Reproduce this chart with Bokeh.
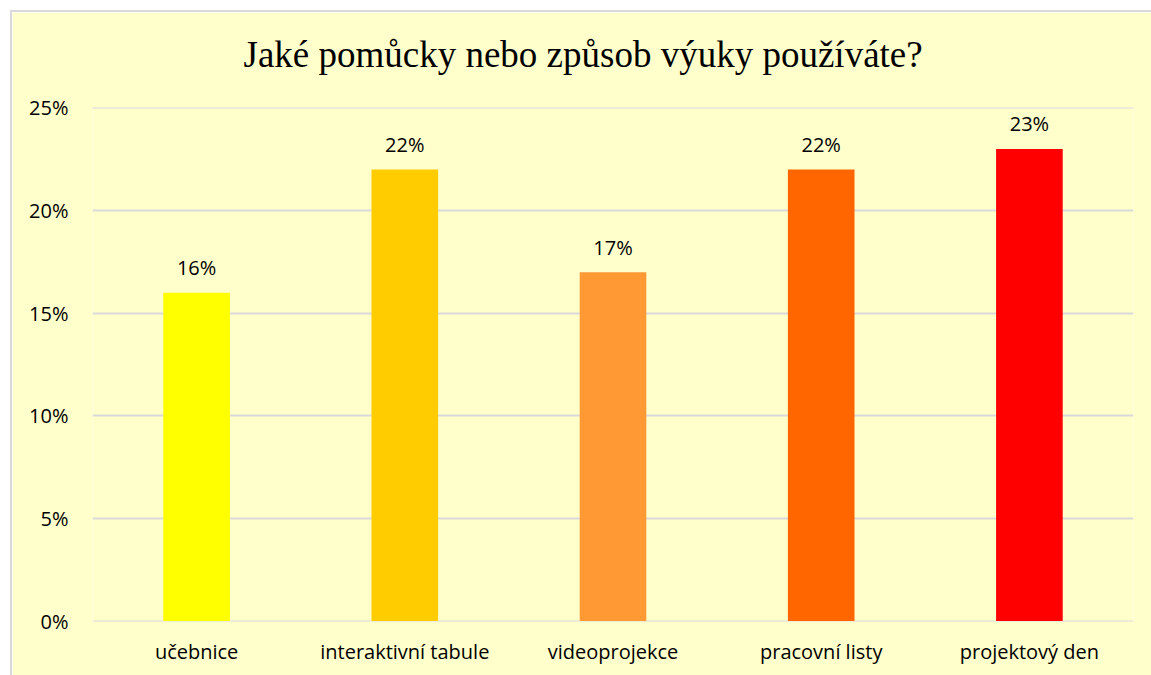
from bokeh.plotting import figure
from bokeh.models import ColumnDataSource, FixedTicker, PrintfTickFormatter, Title, Range1d
from bokeh.core.properties import value
from bokeh.embed import file_html
from bokeh.resources import INLINE

categories = ["učebnice", "interaktivní tabule", "videoprojekce", "pracovní listy", "projektový den"]
values = [16, 22, 17, 22, 23]
colors = ["#FFFF00", "#FFCC00", "#FF9933", "#FF6600", "#FF0000"]
y_ticks = [0, 5, 10, 15, 20, 25]
title_text = "Jaké pomůcky nebo způsob výuky používáte?"

src = ColumnDataSource(dict(
    cat=categories,
    val=values,
    color=colors,
    lab=[f"{v}%" for v in values],
))

BG = "#FFFFCC"
p = figure(
    x_range=categories, y_range=Range1d(-0.02, 25.02),
    width=1139, height=663,
    output_backend="svg", toolbar_location=None,
    min_border_left=80, min_border_right=18, min_border_top=95, min_border_bottom=54,
    background_fill_color=BG, border_fill_color=BG, outline_line_color=None,
    margin=(12, 0, 0, 12),
    styles={"outline": "2px solid #D9D9D9"},
)

p.vbar(x="cat", top="val", width=0.32, color="color", source=src, line_color=None)
p.text(x="cat", y="val", text="lab", source=src, text_align="center",
       text_baseline="alphabetic", y_offset=-25, text_font=value("Open Sans"),
       text_font_size="20px", text_color="#000000")

p.xgrid.grid_line_color = None
p.ygrid.grid_line_color = "#D9D9D9"
p.ygrid.grid_line_width = 2
p.yaxis.ticker = FixedTicker(ticks=y_ticks)
p.yaxis.formatter = PrintfTickFormatter(format="%d%%")

for ax in (p.xaxis[0], p.yaxis[0]):
    ax.axis_line_color = None
    ax.major_tick_line_color = None
    ax.minor_tick_line_color = None
    ax.major_tick_out = 0
    ax.major_tick_in = 0
    ax.major_label_text_font = "Open Sans"
    ax.major_label_text_font_size = "20px"
    ax.major_label_text_color = "#000000"
p.yaxis.major_label_standoff = 24
p.xaxis.major_label_standoff = 16

# spacer between plot area and title
p.add_layout(Title(text=" ", text_font_size="1px", standoff=13), "above")
p.add_layout(Title(text=title_text, align="left", offset=151, standoff=34,
                   text_font="Liberation Serif", text_font_size="37px",
                   text_font_style="normal", text_color="#000000"), "above")

open("out.html", "w").write(file_html(p, INLINE))
